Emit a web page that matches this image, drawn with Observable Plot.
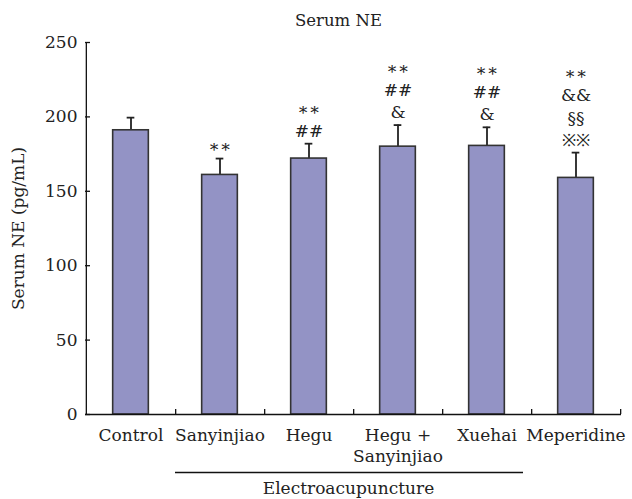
<!DOCTYPE html>
<html>
<head>
<meta charset="utf-8">
<script src="https://cdn.jsdelivr.net/npm/d3@7"></script>
<script src="https://cdn.jsdelivr.net/npm/@observablehq/plot@0.6"></script>
<style>
  body { margin: 0; background: #fff; }
  #chart svg { font-family: "DejaVu Serif", "Liberation Serif", serif; }
</style>
</head>
<body>
<div id="chart"></div>
<script>
const groups = ["Control", "Sanyinjiao", "Hegu", "Hegu + Sanyinjiao", "Xuehai", "Meperidine"];
const tickLabels = ["Control", "Sanyinjiao", "Hegu", "Hegu +\nSanyinjiao", "Xuehai", "Meperidine"];
const means = [191, 161, 172, 180, 180.5, 159];
const sds = [8.5, 11, 10, 14.5, 12.5, 17];
const marks = ["", "∗∗", "∗∗\n##", "∗∗\n##\n&", "∗∗\n##\n&", "∗∗\n&&\n§§\n※※"];
const yTicks = [0, 50, 100, 150, 200, 250];
const title = "Serum NE";
const yLabel = "Serum NE (pg/mL)";
const groupLabel = "Electroacupuncture";
const bracketGroups = [{from: "Sanyinjiao", to: "Xuehai", y: 0}];

const data = groups.map((g, i) => ({group: g, mean: means[i], top: means[i] + sds[i], sig: marks[i]}));

const W = 632, H = 499, mL = 85, mR = 11, mT = 42, mB = 85;
const step = (W - mL - mR) / groups.length;
const plotH = H - mT - mB;
const barInset = (step - 36) / 2;
const capInset = (step - 8) / 2;
const font = "'DejaVu Serif', 'Liberation Serif', serif";
const fs = 17;

const plot = Plot.plot({
  width: W,
  height: H,
  marginLeft: mL,
  marginRight: mR,
  marginTop: mT,
  marginBottom: mB,
  style: {fontFamily: font, fontSize: fs + "px", color: "#222", background: "#fff"},
  x: {domain: groups, padding: 0, label: null},
  y: {domain: [0, 250], label: null},
  marks: [
    Plot.axisX({tickSize: 0, tickPadding: 11, tickFormat: d => tickLabels[groups.indexOf(d)], fontSize: fs, lineHeight: 1.25}),
    Plot.axisY({ticks: yTicks, tickSize: 0, tickPadding: 8, fontSize: fs}),
    Plot.ruleX(data, {x: "group", y1: "mean", y2: "top", stroke: "#222", strokeWidth: 1.8}),
    Plot.tickY(data, {x: "group", y: "top", stroke: "#222", strokeWidth: 1.8, insetLeft: capInset, insetRight: capInset}),
    Plot.barY(data, {x: "group", y: "mean", fill: "#9393c5", stroke: "#333", strokeWidth: 1.6, insetLeft: barInset, insetRight: barInset}),
    Plot.text(data, {x: "group", y: "top", text: "sig", lineAnchor: "bottom", dy: -7, lineHeight: 1.3, fontSize: fs, fill: "#222"}),
    Plot.ruleY([0], {stroke: "#111", strokeWidth: 1.3}),
    Plot.ruleX([groups[0]], {dx: -step / 2, stroke: "#111", strokeWidth: 1.3}),
    Plot.tickY(yTicks, {y: d => d, stroke: "#111", strokeWidth: 1.3, insetRight: W - mL - mR - 5}),
    Plot.tickX(groups, {x: d => d, dx: step / 2, stroke: "#111", strokeWidth: 1.3, insetTop: plotH - 5}),
    Plot.ruleY(bracketGroups, {x1: "from", x2: "to", y: "y", dy: 58, insetRight: 8, stroke: "#111", strokeWidth: 1.3}),
    Plot.text([groupLabel], {frameAnchor: "bottom", lineAnchor: "middle", textAnchor: "middle", dy: 74, dx: -5, fontSize: fs, fill: "#222"}),
    Plot.text([title], {frameAnchor: "top", lineAnchor: "middle", textAnchor: "middle", dy: -22, dx: -15, fontSize: 16.5, fill: "#222"}),
    Plot.text([yLabel], {frameAnchor: "left", lineAnchor: "middle", textAnchor: "middle", dx: -67, rotate: -90, fontSize: fs, fill: "#222"})
  ]
});
document.getElementById("chart").appendChild(plot);
</script>
</body>
</html>
